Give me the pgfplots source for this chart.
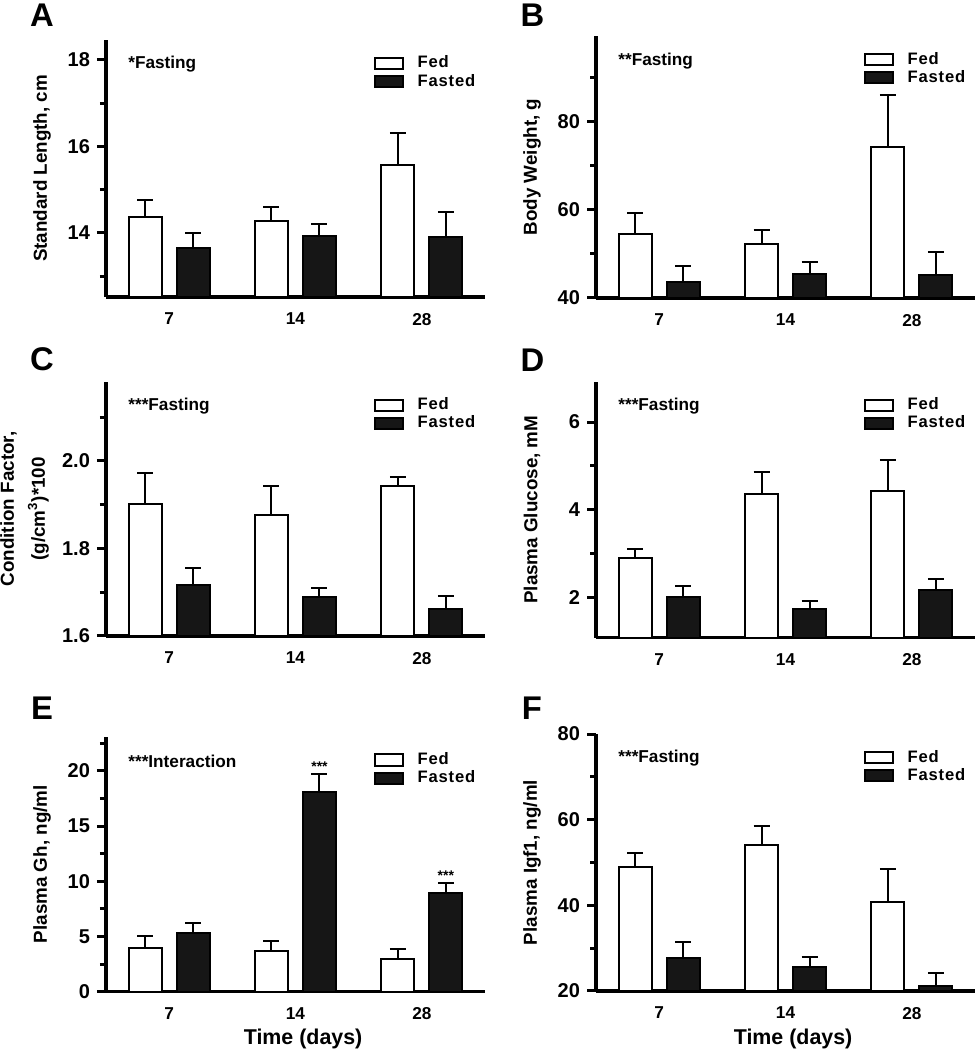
\documentclass[border=0pt]{standalone}
\usepackage{pgfplots}
\pgfplotsset{compat=1.18}
\usepackage{fontspec}
\setmainfont{Liberation Sans}
\newfontfamily\legfont{Liberation Sans}[LetterSpace=5]
\definecolor{barblack}{HTML}{161616}
\pgfplotsset{
 panel/.style={
  scale only axis, width=189.5pt,
  xmin=-0.5, xmax=2.5,
  axis lines*=left,
  axis line style={line width=1.6pt,-},
  xtick={0,1,2}, xticklabels={7,14,28},
  xtick style={draw=none},
  ytick style={line width=1.5pt,black},
  tick align=outside,
  major tick length=4.5pt, minor tick length=3pt,
  ybar, bar width=16.5pt,
  /pgf/number format/assume math mode=true,
  xticklabel style={font=\bfseries\fontsize{8.6}{9}\selectfont},
  yticklabel style={font=\bfseries\fontsize{10}{11}\selectfont},
  every axis y label/.style={at={(axis description cs:-0.169,0.5)},rotate=90,anchor=center,font=\bfseries\fontsize{9.4}{15.5}\selectfont,align=center},
  every axis x label/.style={at={(axis description cs:0.52,-0.185)},anchor=center,font=\bfseries\fontsize{10.7}{12}\selectfont},
  legend style={at={(0.705,0.955)},anchor=north west,draw=none,fill=none,
    font=\legfont\bfseries\fontsize{8.3}{9}\selectfont,inner sep=0pt,row sep=-2.5pt,
    /tikz/every odd column/.append style={column sep=5pt}},
  legend cell align=left,
  legend image code/.code={\draw[#1] (0pt,-2.8pt) rectangle (14pt,2.8pt);},
  error bars/y dir=plus, error bars/y explicit,
  error bars/error bar style={line width=1pt,black},
  error bars/error mark options={rotate=90,mark size=4pt,line width=1pt,black},
 },
 fed/.style={fill=white,draw=black,line width=1pt,bar shift=-12pt},
 fasted/.style={fill=barblack,draw=black,line width=1pt,bar shift=12pt},
}
\newcommand\annot[1]{\node[anchor=west,inner sep=0pt,font=\bfseries\fontsize{8.6}{9}\selectfont] at (rel axis cs:0.058,0.905) {#1};}
\begin{document}
\begin{tikzpicture}
\path[use as bounding box] (0pt,0pt) rectangle (490pt,525pt);
\tikzset{panellabel/.style={font=\bfseries\fontsize{16.4}{18}\selectfont,inner sep=0pt}}
\node[panellabel] at (21pt,517.5pt) {A};
\node[panellabel] at (266.2pt,517.5pt) {B};
\node[panellabel] at (21pt,345.5pt) {C};
\node[panellabel] at (266.2pt,345pt) {D};
\node[panellabel] at (21pt,171pt) {E};
\node[panellabel] at (266pt,171pt) {F};

% A
\begin{axis}[panel, at={(53pt,376.5pt)}, anchor=south west, height=128.5pt,
  ymin=12.52, ymax=18.46, ytick={14,16,18}, minor ytick={13,15,17},
  ylabel={Standard Length, cm}]
\addplot[fed] coordinates {(0,14.37) +- (0,0.39) (1,14.28) +- (0,0.32) (2,15.57) +- (0,0.74)};
\addplot[fasted] coordinates {(0,13.65) +- (0,0.35) (1,13.93) +- (0,0.28) (2,13.90) +- (0,0.58)};
\legend{Fed,Fasted}
\annot{*Fasting}
\end{axis}

% B
\begin{axis}[panel, at={(298pt,376pt)}, anchor=south west, height=131pt,
  ymin=40, ymax=99.5, ytick={40,60,80}, minor ytick={50,70,90},
  ylabel={Body Weight, g}]
\addplot[fed] coordinates {(0,54.5) +- (0,4.7) (1,52.2) +- (0,3.2) (2,74.3) +- (0,11.8)};
\addplot[fasted] coordinates {(0,43.7) +- (0,3.6) (1,45.5) +- (0,2.6) (2,45.2) +- (0,5.3)};
\legend{Fed,Fasted}
\annot{**Fasting}
\end{axis}

% C
\begin{axis}[panel, at={(53pt,207pt)}, anchor=south west, height=127pt,
  ymin=1.6, ymax=2.18, ytick={1.6,1.8,2.0}, minor ytick={1.7,1.9,2.1},
  yticklabel style={/pgf/number format/.cd,fixed,fixed zerofill,precision=1},
  every axis y label/.append style={at={(axis description cs:-0.215,0.5)}},
  ylabel={Condition Factor,\\(g/cm\textsuperscript{3})*100}]
\addplot[fed] coordinates {(0,1.902) +- (0,0.070) (1,1.877) +- (0,0.066) (2,1.943) +- (0,0.020)};
\addplot[fasted] coordinates {(0,1.716) +- (0,0.040) (1,1.689) +- (0,0.020) (2,1.662) +- (0,0.029)};
\legend{Fed,Fasted}
\annot{***Fasting}
\end{axis}

% D
\begin{axis}[panel, at={(298pt,206.15pt)}, anchor=south west, height=128pt,
  ymin=1.09, ymax=6.92, ytick={2,4,6}, minor ytick={3,5},
  ylabel={Plasma Glucose, mM}]
\addplot[fed] coordinates {(0,2.91) +- (0,0.21) (1,4.36) +- (0,0.51) (2,4.44) +- (0,0.69)};
\addplot[fasted] coordinates {(0,2.02) +- (0,0.25) (1,1.75) +- (0,0.17) (2,2.17) +- (0,0.26)};
\legend{Fed,Fasted}
\annot{***Fasting}
\end{axis}

% E
\begin{axis}[panel, at={(53pt,29.15pt)}, anchor=south west, height=127.5pt,
  ymin=0, ymax=23.1, ytick={0,5,10,15,20}, minor ytick={2.5,7.5,12.5,17.5,22.5},
  ylabel={Plasma Gh, ng/ml}, xlabel={Time (days)}]
\addplot[fed] coordinates {(0,3.99) +- (0,1.08) (1,3.71) +- (0,0.88) (2,2.96) +- (0,0.94)};
\addplot[fasted] coordinates {(0,5.29) +- (0,0.91) (1,18.06) +- (0,1.69) (2,8.94) +- (0,0.93)};
\legend{Fed,Fasted}
\annot{***Interaction}
\node[anchor=south,inner sep=1pt,font=\bfseries\fontsize{7}{7}\selectfont,xshift=12pt] at (axis cs:1,19.75) {***};
\node[anchor=south,inner sep=1pt,font=\bfseries\fontsize{7}{7}\selectfont,xshift=12pt] at (axis cs:2,9.87) {***};
\end{axis}

% F
\begin{axis}[panel, at={(298pt,29.5pt)}, anchor=south west, height=128.5pt,
  ymin=20, ymax=80, ytick={20,40,60,80}, minor ytick={30,50,70},
  ylabel={Plasma Igf1, ng/ml}, xlabel={Time (days)}]
\addplot[fed] coordinates {(0,49.0) +- (0,3.3) (1,54.1) +- (0,4.4) (2,40.8) +- (0,7.6)};
\addplot[fasted] coordinates {(0,27.6) +- (0,3.8) (1,25.7) +- (0,2.3) (2,21.2) +- (0,2.9)};
\legend{Fed,Fasted}
\annot{***Fasting}
\end{axis}
\end{tikzpicture}
\end{document}
